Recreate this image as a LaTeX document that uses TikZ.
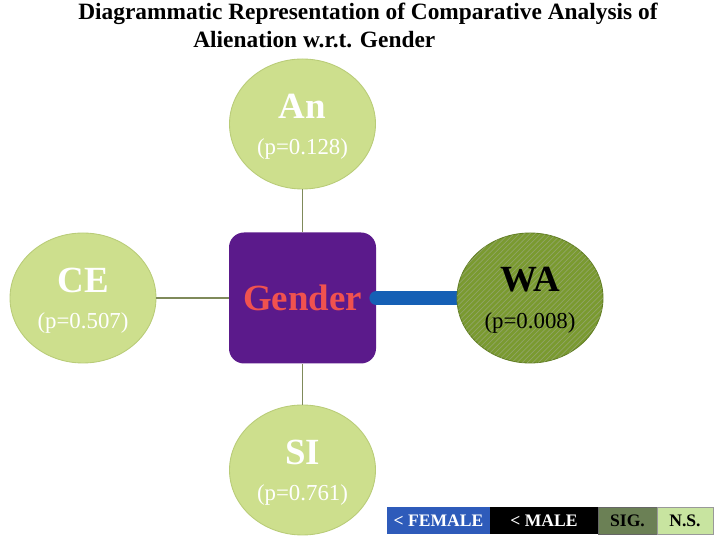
\documentclass[tikz,border=0pt]{standalone}
\usepackage{fontspec}
\setmainfont{Liberation Serif}
\usetikzlibrary{positioning,shapes.geometric,patterns}
\pgfdeclarelayer{front}
\pgfsetlayers{main,front}

\begin{document}
\begin{tikzpicture}[
        factor/.style={ellipse, fill=nsgreen, draw=nsedge, line width=0.5pt,
            minimum width=2.92cm, minimum height=2.6cm, inner sep=0pt},
        sigfactor/.style={factor, fill=siggreen, draw=sigedge,
            postaction={pattern=north east lines, pattern color=sigedge!70}},
        fname/.style={font=\bfseries\fontsize{21}{25}\selectfont, text=white},
        pval/.style={font=\fontsize{13}{15}\selectfont, text=white},
        link/.style={draw=linkcol, line width=1.1pt},
        legbox/.style={minimum height=0.54cm, inner sep=0pt, outer sep=0pt,
            font=\bfseries\fontsize{10}{12}\selectfont},
        titletext/.style={font=\bfseries\fontsize{13.3}{15}\selectfont, inner sep=0pt}
    ]
        % Define colors
        \definecolor{nsgreen}{RGB}{205, 223, 141}
        \definecolor{nsedge}{RGB}{185, 204, 120}
        \definecolor{siggreen}{RGB}{122, 154, 48}
        \definecolor{sigedge}{RGB}{98, 126, 36}
        \definecolor{gpurple}{RGB}{91, 26, 139}
        \definecolor{gred}{RGB}{240, 82, 79}
        \definecolor{sigblue}{RGB}{21, 96, 181}
        \definecolor{linkcol}{RGB}{127, 138, 90}
        \definecolor{legfem}{RGB}{46, 91, 186}
        \definecolor{legsig}{RGB}{107, 128, 85}
        \definecolor{legns}{RGB}{200, 228, 160}

        \useasboundingbox (0,0) rectangle (14.28,10.74);

        % --- TITLE ---
        \node[titletext, anchor=west] (title1) at (1.56, 10.46)
            {Diagrammatic Representation of Comparative Analysis of};
        \node[titletext, anchor=west] (title2) at (3.86, 9.94)
            {Alienation w.r.t. Gender};

        % --- CENTRE (Gender) ---
        \node[rectangle, rounded corners=0.3cm, fill=gpurple, minimum width=2.94cm,
            minimum height=2.62cm, font=\bfseries\fontsize{21}{25}\selectfont, text=gred]
            (gender) at (6.05, 4.78) {Gender};

        % --- FACTORS ---
        \node[factor] (an) at (6.05, 8.26) {};
        \node[fname] (anName) at ([yshift=0.36cm]an.center) {An};
        \node[pval] (anP) at ([yshift=-0.5cm]an.center) {(p=0.128)};

        \node[factor] (ce) at (1.66, 4.78) {};
        \node[fname] (ceName) at ([yshift=0.36cm]ce.center) {CE};
        \node[pval] (ceP) at ([yshift=-0.5cm]ce.center) {(p=0.507)};

        \node[factor] (si) at (6.05, 1.34) {};
        \node[fname] (siName) at ([yshift=0.36cm]si.center) {SI};
        \node[pval] (siP) at ([yshift=-0.5cm]si.center) {(p=0.761)};

        \begin{pgfonlayer}{front}
            \node[sigfactor] (wa) at (10.6, 4.78) {};
            \node[fname, text=black] (waName) at ([yshift=0.36cm]wa.center) {WA};
            \node[pval, text=black] (waP) at ([yshift=-0.5cm]wa.center) {(p=0.008)};
        \end{pgfonlayer}

        % --- LINKS ---
        \draw[link] (an) -- (gender);
        \draw[link] (ce) -- (gender);
        \draw[link] (si) -- (gender);
        \draw[sigblue, line width=0.28cm, line cap=round] (gender.east) -- (wa.center);

        % --- LEGEND ---
        \node[legbox, fill=legfem, text=white, minimum width=2.06cm] (legFem) at (8.77, 0.33) {< FEMALE};
        \node[legbox, fill=black, text=white, minimum width=2.16cm, right=0pt of legFem] (legMale) {< MALE};
        \node[legbox, fill=legsig, draw=black!60, minimum width=1.18cm, right=0pt of legMale] (legSig) {SIG.};
        \node[legbox, fill=legns, draw=black!40, minimum width=1.12cm, right=0pt of legSig] (legNs) {N.S.};
    \end{tikzpicture}
\end{document}
